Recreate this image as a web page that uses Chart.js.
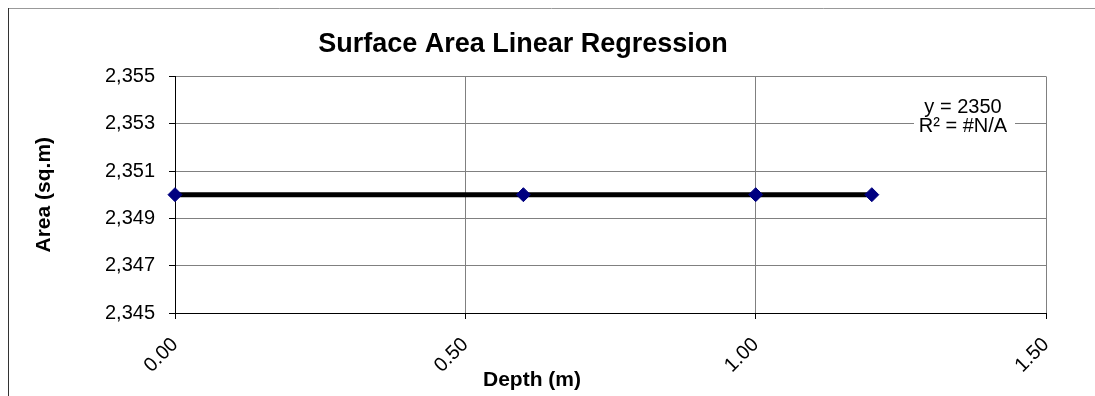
<!DOCTYPE html>
<html>
<head>
<meta charset="utf-8">
<script src="https://cdn.jsdelivr.net/npm/chart.js@4/dist/chart.umd.min.js"></script>
<style>
  html, body { margin: 0; padding: 0; background: #fff; }
  #wrap { width: 1095px; height: 396px; }
</style>
</head>
<body>
<div id="wrap"><canvas id="chart" width="1095" height="396"></canvas></div>
<script>
// values
const depths = [0, 0.6, 1.0, 1.2];
const areas = [2350, 2350, 2350, 2350];
const trendDepths = [0, 1.2];
const trendAreas = [2350, 2350];
const xTickValues = [0, 0.5, 1.0, 1.5];
const xTickLabels = ['0.00', '0.50', '1.00', '1.50'];
const yTickValues = [2345, 2347, 2349, 2351, 2353, 2355];
const yTickLabels = ['2,345', '2,347', '2,349', '2,351', '2,353', '2,355'];
const trendText = ['y = 2350', 'R\u00B2 = #N/A'];

const FONT = "'Liberation Sans', Arial, sans-serif";

const frame = {
  id: 'frame',
  beforeDraw(chart) {
    const ctx = chart.ctx;
    ctx.save();
    ctx.fillStyle = '#fff';
    ctx.fillRect(0, 0, chart.width, chart.height);
    ctx.lineWidth = 1;
    ctx.strokeStyle = '#999';
    ctx.beginPath();
    ctx.moveTo(8, 8.5);
    ctx.lineTo(chart.width, 8.5);
    ctx.stroke();
    ctx.strokeStyle = '#333';
    ctx.beginPath();
    ctx.moveTo(8.5, 8);
    ctx.lineTo(8.5, chart.height);
    ctx.stroke();
    ctx.restore();
  },
  afterDraw(chart) {
    const ctx = chart.ctx;
    ctx.save();
    // trendline label box
    ctx.fillStyle = '#fff';
    ctx.fillRect(914, 96, 101, 40);
    ctx.fillStyle = '#000';
    ctx.font = '20px ' + FONT;
    ctx.textAlign = 'center';
    ctx.textBaseline = 'middle';
    ctx.fillText(trendText[0], 963, 107);
    ctx.fillText(trendText[1], 963, 126);
    // x axis title
    ctx.font = 'bold 21px ' + FONT;
    ctx.fillText('Depth (m)', 532, 380);
    ctx.restore();
  }
};

new Chart(document.getElementById('chart'), {
  type: 'scatter',
  data: {
    datasets: [{
      label: 'Area',
      data: depths.map((d, i) => ({ x: d, y: areas[i] })),
      pointStyle: 'rectRot',
      pointRadius: 7,
      pointHoverRadius: 7,
      pointBackgroundColor: '#000080',
      pointBorderColor: '#000080',
      pointBorderWidth: 1,
      showLine: false,
      clip: false,
      order: 0,
    }, {
      label: 'Linear',
      data: trendDepths.map((d, i) => ({ x: d, y: trendAreas[i] })),
      showLine: true,
      borderColor: '#000',
      borderWidth: 5,
      pointRadius: 0,
      pointHoverRadius: 0,
      order: 1,
    }]
  },
  options: {
    responsive: false,
    animation: false,
    layout: { padding: { left: 0, right: 49, top: 0, bottom: 0 } },
    plugins: {
      legend: { display: false },
      tooltip: { enabled: false },
      title: {
        display: true,
        text: 'Surface Area Linear Regression',
        color: '#000',
        font: { family: FONT, size: 27, weight: 'bold' },
        padding: { top: 28, bottom: 16 },
      },
    },
    scales: {
      x: {
        type: 'linear',
        min: 0,
        max: 1.5,
        afterBuildTicks(scale) {
          scale.ticks = xTickValues.map(v => ({ value: v }));
        },
        afterFit(scale) { scale.height = 83; },
        grid: { color: '#808080', tickColor: '#000', tickLength: 6 },
        border: { color: '#000', width: 1 },
        ticks: {
          color: '#000',
          font: { family: FONT, size: 20 },
          minRotation: 45,
          maxRotation: 45,
          padding: 14,
          callback: (v, i) => xTickLabels[i],
        },
      },
      y: {
        min: 2345,
        max: 2355,
        afterBuildTicks(scale) {
          scale.ticks = yTickValues.map(v => ({ value: v }));
        },
        afterFit(scale) { scale.width = 175; },
        grid: { color: '#808080', tickColor: '#000', tickLength: 6 },
        border: { color: '#000', width: 1 },
        ticks: {
          color: '#000',
          font: { family: FONT, size: 20 },
          padding: 14,
          callback: (v, i) => yTickLabels[i],
        },
        title: {
          display: true,
          text: 'Area (sq.m)',
          color: '#000',
          font: { family: FONT, size: 21, weight: 'bold' },
          padding: { top: 32, bottom: 0 },
        },
      },
    },
  },
  plugins: [frame],
});
</script>
</body>
</html>
